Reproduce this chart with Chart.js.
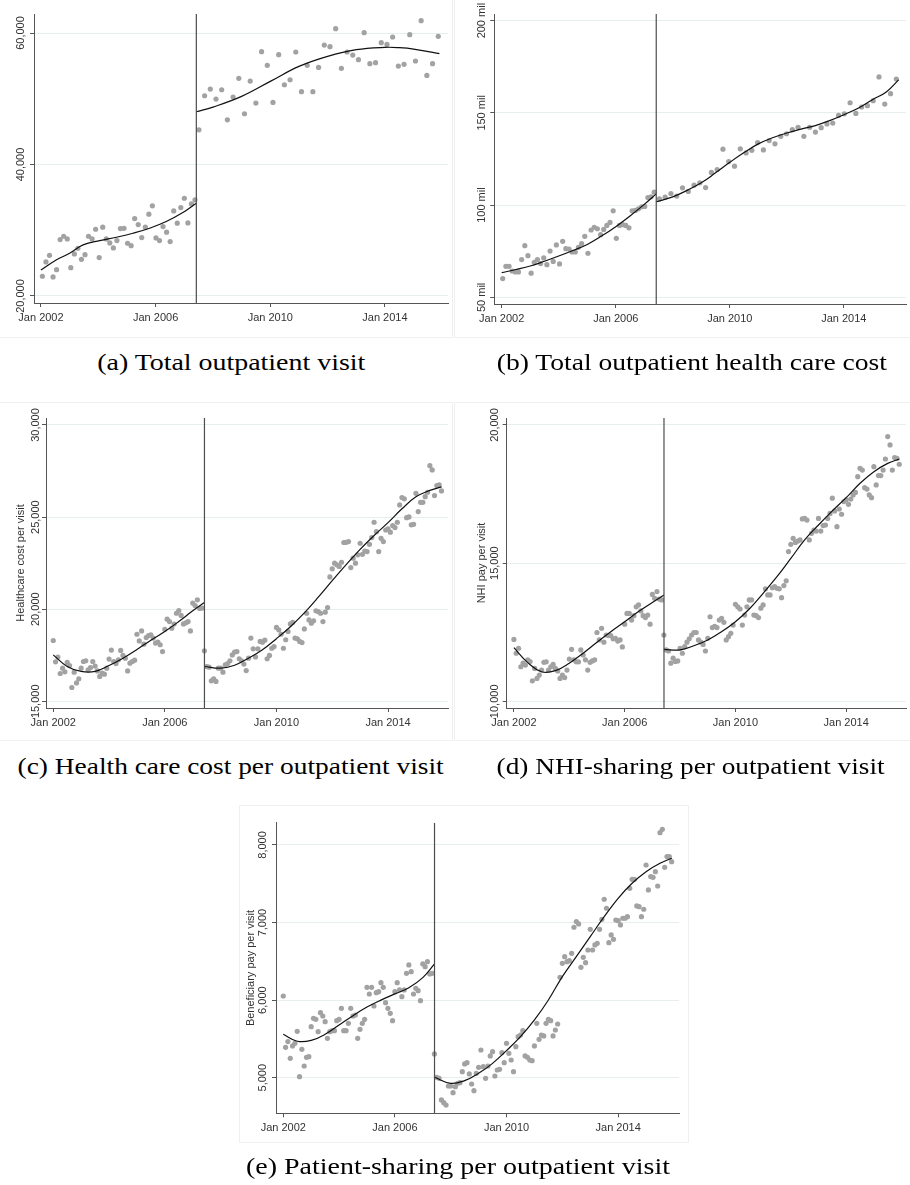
<!DOCTYPE html>
<html>
<head>
<meta charset="utf-8">
<script src="https://cdn.jsdelivr.net/npm/chart.js@4.4.1/dist/chart.umd.min.js"></script>
<style>
  body { margin: 0; background: #fff; width: 910px; height: 1185px; position: relative; overflow: hidden; }
  canvas { position: absolute; outline: 1px solid #f0f0f0; }
  .cap { position: absolute; font-family: "Liberation Serif", "Times New Roman", serif; font-size: 24px;
         line-height: 28px; color: #000; white-space: nowrap; transform-origin: center center; }
</style>
</head>
<body>
<script>
// ---- shared ----
const CUTOFF = 2007.42;
const X_TICKS = [2002, 2006, 2010, 2014];
const HALF_PRE = [2002, 2002.5, 2003, 2003.5, 2004, 2004.5, 2005, 2005.5, 2006, 2006.5, 2007, 2007.42];
const HALF_POST = [2007.42, 2008, 2008.5, 2009, 2009.5, 2010, 2010.5, 2011, 2011.5, 2012, 2012.5,
                   2013, 2013.5, 2014, 2014.5, 2015, 2015.5, 2015.92];

// ---- (a) total outpatient visit ----
const A_PRE = [23000, 25180, 26190, 22900, 24010, 28580, 29090, 28680, 24310, 26400, 27260, 25580, 26290,
  29090, 28680, 30150, 25840, 30460, 28680, 28070, 27310, 28430, 30250, 30300, 28020, 27660, 31780, 30860,
  28880, 30460, 32440, 33710, 28830, 28430, 30560, 29700, 28270, 32940, 31070, 33450, 34870, 31120, 34010, 34620];
const A_POST = [45280, 50460, 51470, 49950, 51370, 46800, 50250, 53100, 47720, 52690, 49340, 57160, 55080,
  49440, 56700, 52130, 52890, 57110, 51070, 55080, 51070, 54770, 58170, 57920, 60660, 54620, 57110, 56650,
  55940, 60050, 55330, 55480, 58530, 58270, 59390, 54970, 55230, 59750, 55740, 61880, 53550, 55330, 59490];
const A_FIT_PRE_X = [2002, 2002.53, 2003, 2003.47, 2004.05, 2004.63, 2005.21, 2005.79, 2006.37, 2006.95, 2007.42];
const A_FIT_PRE = [23960, 25480, 26500, 27770, 28430, 28930, 29540, 30300, 31320, 32690, 34110];
const A_FIT_POST_X = [2007.42, 2008, 2009, 2010, 2011, 2012, 2013, 2014, 2014.5, 2015, 2015.9];
const A_FIT_POST = [48020, 48730, 50360, 52640, 54920, 56450, 57460, 57820, 57770, 57560, 56850];
const A_Y_TICKS = [20000, 40000, 60000];

// ---- (b) total outpatient health care cost (mil) ----
const B_PRE = [60.2, 66.8, 66.8, 64.3, 63.8, 63.8, 70.5, 78.0, 72.6, 63.1, 69.0, 70.5, 68.3, 71.4, 67.7,
  75.1, 69.5, 78.4, 68.1, 80.4, 76.4, 76.2, 74.6, 74.6, 77.1, 79.1, 83.1, 73.9, 86.5, 88.0, 87.2, 84.0, 86.8,
  89.0, 90.6, 96.9, 82.0, 89.0, 89.4, 89.0, 87.7, 96.9, 97.1, 98.0, 99.1, 99.3, 104.1, 104.5, 107.0];
const B_POST = [103.4, 104.3, 106.3, 104.9, 109.4, 107.4, 110.8, 112.1, 109.5, 117.7, 119.3, 130.3, 123.6,
  121.1, 130.5, 128.3, 129.7, 133.9, 129.9, 135.0, 133.2, 137.3, 138.7, 140.9, 142.2, 137.3, 142.2, 139.6,
  142.0, 144.0, 144.5, 148.6, 149.5, 155.5, 149.7, 153.2, 153.9, 156.6, 169.5, 154.8, 160.4, 168.3];
const B_FIT_PRE = [63.4, 65.1, 67.0, 69.6, 72.4, 75.4, 78.7, 83.2, 88.3, 94.1, 100.4, 106.1];
const B_FIT_POST = [101.8, 104.5, 108.0, 112.1, 117.5, 123.2, 128.5, 133.2, 136.5, 139.1, 141.2, 143.1,
  145.8, 149.0, 152.5, 157.1, 161.5, 167.9];
const B_Y_TICKS = [50, 100, 150, 200];

// ---- (c) health care cost per outpatient visit ----
const C_PRE = [18300, 17143, 17400, 16510, 16800, 16600, 17110, 16940, 15750, 16580, 16000, 16220, 16800,
  17160, 17200, 16710, 16830, 17160, 16910, 16650, 16350, 16530, 16470, 16800, 17290, 17780, 17160, 17050,
  17250, 17760, 17490, 17340, 16650, 17070, 17160, 17230, 18640, 18280, 18820, 18100, 18460, 18570, 18610,
  18430, 18160, 18210, 18070, 17700, 18910, 19460, 19330, 18970, 19190, 19780, 19930, 19660, 19200, 19260,
  19330, 18820, 20330, 20200, 20510, 20040, 20060];
const C_POST = [17740, 16890, 16850, 16110, 16220, 16080, 16800, 16800, 16580, 16980, 17050, 17200, 17520,
  17670, 17700, 17310, 17200, 17020, 16670, 17340, 18430, 17850, 17410, 17850, 18250, 18210, 18320, 17310,
  17490, 17880, 17970, 19010, 18880, 18640, 17880, 18340, 18790, 19200, 19280, 18430, 18390, 18250, 18190,
  18930, 19780, 19420, 19240, 19370, 19910, 19870, 19780, 19330, 19840, 20090, 21750, 22190, 22500, 22410,
  22320, 22550, 23620, 23630, 23670, 22260, 22770, 22500, 22950, 23580, 22980, 23160, 23130, 23520, 23890,
  24720, 24210, 23130, 23850, 23670, 24300, 24360, 24180, 24540, 24430, 24720, 25660, 26060, 25990, 24970,
  25010, 24580, 24610, 26290, 25300, 25800, 25800, 26110, 26350, 27790, 27560, 26170, 26710, 26750, 26420];
const C_FIT_PRE = [17520, 16890, 16620, 16620, 16940, 17340, 17810, 18320, 18790, 19330, 19910, 20360];
const C_FIT_POST = [16890, 16800, 16960, 17340, 17800, 18400, 19050, 19800, 20650, 21550, 22420, 23250,
  24000, 24700, 25450, 26100, 26450, 26640];
const C_Y_TICKS = [15000, 20000, 25000, 30000];

// ---- (d) NHI-sharing per outpatient visit ----
const D_PRE = [12240, 11740, 11920, 11250, 11380, 11310, 11500, 11440, 10740, 11190, 10830, 10950, 11130,
  11410, 11430, 11130, 11250, 11340, 11190, 11100, 10830, 10950, 10860, 11130, 11530, 11880, 11500, 11430,
  11430, 11860, 11680, 11500, 11130, 11410, 11460, 11500, 12490, 12220, 12640, 12140, 12400, 12380, 12380,
  12260, 12280, 12180, 12220, 11970, 12790, 13180, 13180, 12940, 13100, 13420, 13490, 13270, 13100, 13030,
  13120, 12790, 13870, 13730, 13970, 13700, 13670];
const D_POST = [12400, 11860, 11820, 11380, 11560, 11440, 11460, 11920, 11740, 11980, 12140, 12260, 12400,
  12490, 12490, 12220, 12140, 12060, 11820, 12280, 13060, 12670, 12710, 12670, 12940, 13000, 12860, 12220,
  12340, 12460, 12760, 13510, 13420, 13340, 12760, 13120, 13420, 13670, 13670, 13120, 13100, 13030, 13370,
  13490, 14070, 13850, 13850, 14110, 14150, 14090, 14070, 13750, 14190, 14360, 15420, 15680, 15900, 15750,
  15800, 15840, 16600, 16620, 16560, 15840, 16080, 16200, 16160, 16620, 16160, 16360, 16380, 16620, 16800,
  17350, 16890, 16320, 16960, 16770, 17230, 17290, 17130, 17320, 17470, 17560, 18130, 18430, 18370, 17730,
  17680, 17470, 17370, 18490, 17830, 18170, 18170, 18370, 18770, 19580, 19280, 18370, 18820, 18790, 18580];
const D_FIT_PRE = [11940, 11400, 11070, 11110, 11380, 11740, 12140, 12520, 12880, 13250, 13580, 13850];
const D_FIT_POST = [11880, 11860, 12010, 12220, 12520, 12880, 13340, 13910, 14510, 15170, 15840, 16380,
  16890, 17370, 17890, 18310, 18610, 18770];
const D_Y_TICKS = [10000, 15000, 20000];

// ---- (e) patient-sharing per outpatient visit ----
const E_PRE = [6053, 5392, 5465, 5250, 5409, 5443, 5598, 5013, 5366, 5151, 5263, 5271, 5658, 5765, 5752,
  5593, 5838, 5795, 5722, 5508, 5593, 5606, 5606, 5735, 5752, 5894, 5606, 5606, 5701, 5894, 5795, 5808,
  5508, 5624, 5701, 5752, 6165, 6079, 6165, 5924, 6096, 6109, 6225, 6165, 5967, 5894, 5830, 5735, 6109,
  6225, 6131, 6045, 6131, 6346, 6453, 6367, 6079, 6152, 6122, 5993, 6466, 6431, 6496, 6337, 6346];
const E_POST = [5306, 5005, 4992, 4713, 4678, 4648, 4893, 4893, 4807, 4884, 4927, 4936, 5078, 5177, 5194,
  5048, 4919, 4833, 5056, 5134, 5357, 5142, 4992, 5151, 5280, 5336, 5022, 5099, 5108, 5323, 5194, 5443,
  5314, 5228, 5078, 5400, 5529, 5550, 5606, 5280, 5263, 5228, 5219, 5409, 5701, 5495, 5550, 5538, 5701,
  5752, 5735, 5538, 5615, 5692, 6294, 6474, 6560, 6496, 6509, 6603, 6939, 7012, 6982, 6423, 6552, 6483,
  6646, 6913, 6646, 6711, 6732, 6913, 7042, 7300, 7184, 6741, 6840, 6784, 7033, 7024, 6969, 7055, 7055,
  7076, 7441, 7557, 7557, 7214, 7205, 7076, 7171, 7742, 7420, 7592, 7583, 7656, 7471, 8159, 8202, 7712,
  7850, 7850, 7785];
const E_FIT_PRE = [5560, 5470, 5480, 5560, 5680, 5800, 5910, 6000, 6080, 6160, 6290, 6466];
const E_FIT_POST = [5005, 4927, 4962, 5056, 5185, 5349, 5529, 5744, 6002, 6303, 6560, 6818, 7076, 7312,
  7506, 7656, 7764, 7828];
const E_Y_TICKS = [5000, 6000, 7000, 8000];

// time positions of the observations (periods as plotted)
const timeline = (start, step, vals) => vals.map((v, i) => ({ x: start + i * step, y: v }));
const pairs = (xs, ys) => xs.map((x, i) => ({ x, y: ys[i] }));
const comma = v => v.toLocaleString('en-US');

Chart.defaults.font.family = '"Liberation Sans", Arial, sans-serif';

const yLabels = {
  id: 'yLabels',
  afterDraw(chart, args, o) {
    const { ctx, scales: { y }, chartArea } = chart;
    ctx.save();
    ctx.fillStyle = '#333';
    ctx.font = '11px "Liberation Sans", Arial, sans-serif';
    ctx.textAlign = 'center';
    ctx.textBaseline = 'middle';
    y.ticks.forEach(t => {
      ctx.save();
      ctx.translate(o.x, y.getPixelForValue(t.value));
      ctx.rotate(-Math.PI / 2);
      ctx.fillText(o.fmt(t.value), 0, 0);
      ctx.restore();
    });
    if (o.title) {
      ctx.translate(o.titleX, (chartArea.top + chartArea.bottom) / 2);
      ctx.rotate(-Math.PI / 2);
      ctx.fillText(o.title, 0, 0);
    }
    ctx.restore();
  }
};

function panel(p) {
  const c = document.createElement('canvas');
  c.width = p.box.w; c.height = p.box.h;
  c.style.left = p.box.x + 'px'; c.style.top = p.box.y + 'px';
  document.body.appendChild(c);

  const fit = { showLine: true, pointRadius: 0, borderColor: '#111', borderWidth: 1.2, tension: 0.4, order: 1 };
  const dots = { pointRadius: 2.6, pointBackgroundColor: '#a2a2a2', pointBorderWidth: 0, order: 3 };

  new Chart(c, {
    type: 'scatter',
    data: {
      datasets: [
        { data: [{ x: CUTOFF, y: p.yMin }, { x: CUTOFF, y: p.yMax }], showLine: true, pointRadius: 0,
          borderColor: '#4d4d4d', borderWidth: 1.2, order: 0 },
        { ...fit, data: p.fitPre },
        { ...fit, data: p.fitPost },
        { ...dots, data: p.pre },
        { ...dots, data: p.post }
      ]
    },
    options: {
      responsive: false,
      animation: false,
      events: [],
      layout: { padding: { top: p.plot.t - p.box.y, right: p.box.x + p.box.w - p.plot.r, left: 0, bottom: 0 } },
      plugins: {
        legend: { display: false },
        tooltip: { enabled: false },
        yLabels: { x: p.labX - p.box.x, fmt: p.fmt, title: p.title, titleX: (p.titleX || 0) - p.box.x }
      },
      scales: {
        x: {
          type: 'linear', min: p.xMin, max: p.xMax,
          afterBuildTicks: s => { s.ticks = X_TICKS.map(v => ({ value: v })); },
          afterFit: s => { s.height = p.box.y + p.box.h - p.plot.b; },
          ticks: { callback: v => 'Jan ' + v, font: { size: 11 }, color: '#333', padding: 4,
                   maxRotation: 0, autoSkip: false },
          grid: { drawOnChartArea: false, tickLength: 4, tickColor: '#555' },
          border: { color: '#555', width: 1 }
        },
        y: {
          type: 'linear', min: p.yMin, max: p.yMax,
          afterBuildTicks: s => { s.ticks = p.yTicks.map(v => ({ value: v })); },
          afterFit: s => { s.width = p.plot.l - p.box.x; },
          ticks: { display: false },
          grid: { color: '#e6eef0', tickLength: 4, tickColor: '#555' },
          border: { color: '#555', width: 1 }
        }
      }
    },
    plugins: [yLabels]
  });
}

panel({
  box: { x: 0, y: 0, w: 452, h: 337 }, plot: { l: 34, t: 14, r: 450, b: 303 }, labX: 20.5,
  xMin: 2001.757, xMax: 2016.2, yMin: 18935, yMax: 62890, yTicks: A_Y_TICKS, fmt: comma,
  pre: timeline(2002.05, 0.1238, A_PRE), post: timeline(2007.51, 0.1988, A_POST),
  fitPre: pairs(A_FIT_PRE_X, A_FIT_PRE), fitPost: pairs(A_FIT_POST_X, A_FIT_POST)
});
panel({
  box: { x: 455, y: 0, w: 455, h: 337 }, plot: { l: 494.3, t: 14, r: 909, b: 304 }, labX: 481.7,
  xMin: 2001.74, xMax: 2016.18, yMin: 46.4, yMax: 203.6, yTicks: B_Y_TICKS, fmt: v => v + ' mil',
  pre: timeline(2002.035, 0.1107, B_PRE), post: timeline(2007.53, 0.2027, B_POST),
  fitPre: pairs(HALF_PRE, B_FIT_PRE), fitPost: pairs(HALF_POST, B_FIT_POST)
});
panel({
  box: { x: 0, y: 403, w: 452, h: 337 }, plot: { l: 46, t: 418, r: 448, b: 708 }, labX: 36,
  title: 'Healthcare cost per visit', titleX: 21,
  xMin: 2001.74, xMax: 2016.15, yMin: 14636, yMax: 30380, yTicks: C_Y_TICKS, fmt: comma,
  pre: timeline(2002, 1 / 12, C_PRE), post: timeline(2007 + 5 / 12, 1 / 12, C_POST),
  fitPre: pairs(HALF_PRE, C_FIT_PRE), fitPost: pairs(HALF_POST, C_FIT_POST)
});
panel({
  box: { x: 455, y: 403, w: 455, h: 337 }, plot: { l: 506.7, t: 418, r: 909, b: 708 }, labX: 495,
  title: 'NHI pay per visit', titleX: 481.7,
  xMin: 2001.74, xMax: 2016.16, yMin: 9758, yMax: 20253, yTicks: D_Y_TICKS, fmt: comma,
  pre: timeline(2002, 1 / 12, D_PRE), post: timeline(2007 + 5 / 12, 1 / 12, D_POST),
  fitPre: pairs(HALF_PRE, D_FIT_PRE), fitPost: pairs(HALF_POST, D_FIT_POST)
});
panel({
  box: { x: 240, y: 806, w: 448, h: 336 }, plot: { l: 276, t: 822.7, r: 679, b: 1113.3 }, labX: 263.3,
  title: 'Beneficiary pay per visit', titleX: 250.7,
  xMin: 2001.74, xMax: 2016.18, yMin: 4541, yMax: 8287, yTicks: E_Y_TICKS, fmt: comma,
  pre: timeline(2002, 1 / 12, E_PRE), post: timeline(2007 + 5 / 12, 1 / 12, E_POST),
  fitPre: pairs(HALF_PRE, E_FIT_PRE), fitPost: pairs(HALF_POST, E_FIT_POST)
});

// sub-figure captions
[
  { text: '(a) Total outpatient visit', cx: 231, cy: 362, w: 268 },
  { text: '(b) Total outpatient health care cost', cx: 692, cy: 362, w: 390 },
  { text: '(c) Health care cost per outpatient visit', cx: 231, cy: 766, w: 426 },
  { text: '(d) NHI-sharing per outpatient visit', cx: 691, cy: 766, w: 388 },
  { text: '(e) Patient-sharing per outpatient visit', cx: 458, cy: 1166, w: 424 }
].forEach(c => {
  const d = document.createElement('div');
  d.className = 'cap';
  d.textContent = c.text;
  document.body.appendChild(d);
  const w = d.getBoundingClientRect().width;
  d.style.left = (c.cx - w / 2) + 'px';
  d.style.top = (c.cy - 14) + 'px';
  d.style.transform = 'scaleX(' + (c.w / w).toFixed(3) + ')';
});
</script>
</body>
</html>
